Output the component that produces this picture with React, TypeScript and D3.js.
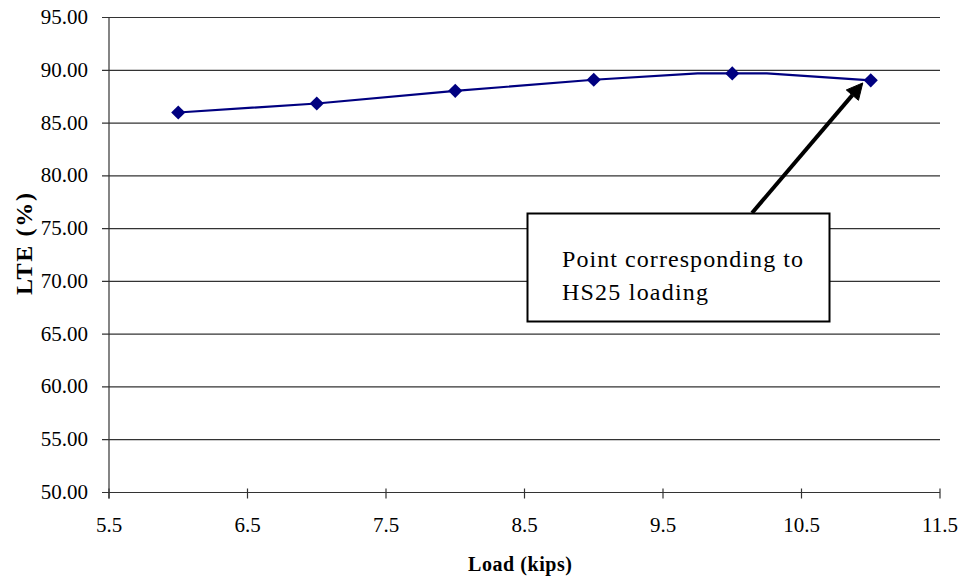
import React from "react";
import * as d3 from "d3";

const loads = [6, 7, 8, 9, 10, 11];
const lte = [86.0, 86.85, 88.05, 89.1, 89.7, 89.05];
// line path includes the flat shoulders around the 10-kip point seen in the chart
const lineLoads = [6, 7, 8, 9, 9.75, 10, 10.25, 11];
const lineLte = [86.0, 86.85, 88.05, 89.1, 89.7, 89.7, 89.7, 89.05];
const xTicks = [5.5, 6.5, 7.5, 8.5, 9.5, 10.5, 11.5];
const yTicks = [50, 55, 60, 65, 70, 75, 80, 85, 90, 95];
const annotationLines = ["Point corresponding to", "HS25 loading"];
const annotationTarget = [11, 88.8];

const W = 962;
const H = 579;
const left = 109;
const right = 940;
const top = 17.5;
const bottom = 492.5;

export default function App() {
  const x = d3.scaleLinear().domain([5.5, 11.5]).range([left, right]);
  const y = d3.scaleLinear().domain([50, 95]).range([bottom, top]);
  const pts: [number, number][] = lineLoads.map((l, i) => [x(l), y(lineLte[i])]);
  const line = d3.line()(pts) || "";
  const ts = { fontFamily: "Liberation Serif" };

  const tipX = x(annotationTarget[0]) - 8;
  const tipY = y(annotationTarget[1]);
  const tailX = 752;
  const tailY = 213;
  const ang = Math.atan2(tipY - tailY, tipX - tailX);
  const headLen = 16;
  const headW = 8;
  const bx = tipX - headLen * Math.cos(ang);
  const by = tipY - headLen * Math.sin(ang);
  const px = -Math.sin(ang);
  const py = Math.cos(ang);
  const head = `M${tipX},${tipY} L${bx + px * headW},${by + py * headW} L${bx - px * headW},${by - py * headW} Z`;
  const marker = d3.symbol().type(d3.symbolSquare).size(100)() || "";
  const annLen = [241, 146];

  return (
    <svg width={W} height={H} style={{ position: "absolute", left: 0, top: 0, background: "#fff" }}>
      {yTicks.map((t) => (
        <g key={t}>
          <line x1={left - 7} x2={right} y1={y(t)} y2={y(t)} stroke="#333" strokeWidth={1.2} />
          <text x={88} y={y(t) + 6.5} textAnchor="end" style={ts} fontSize={21} fill="#000">
            {t.toFixed(2)}
          </text>
        </g>
      ))}
      <line x1={left} x2={left} y1={top} y2={bottom + 6} stroke="#333" strokeWidth={1.2} />
      {xTicks.map((t) => (
        <g key={t}>
          <line x1={x(t)} x2={x(t)} y1={bottom - 4} y2={bottom + 6} stroke="#333" strokeWidth={1.2} />
          <text x={x(t)} y={532} textAnchor="middle" style={ts} fontSize={21} fill="#000">
            {t}
          </text>
        </g>
      ))}
      <path d={line} fill="none" stroke="#000080" strokeWidth={2.2} />
      {loads.map((l, i) => (
        <path
          key={l}
          d={marker}
          transform={`translate(${x(l)},${y(lte[i])}) rotate(45)`}
          fill="#000080"
        />
      ))}
      <line x1={tailX} y1={tailY} x2={bx} y2={by} stroke="#000" strokeWidth={4} />
      <path d={head} fill="#000" stroke="#000" strokeWidth={1} />
      <rect x={527.5} y={213.5} width={302} height={108} fill="#fff" stroke="#000" strokeWidth={2} />
      {annotationLines.map((s, i) => (
        <text
          key={s}
          x={562}
          y={267 + i * 33}
          style={ts}
          fontSize={24}
          textLength={annLen[i]}
          lengthAdjust="spacing"
          fill="#000"
        >
          {s}
        </text>
      ))}
      <text
        x={520}
        y={571}
        textAnchor="middle"
        style={ts}
        fontSize={20}
        fontWeight="bold"
        textLength={104}
        lengthAdjust="spacing"
        fill="#000"
      >
        Load (kips)
      </text>
      <text
        transform={`translate(32,244) rotate(-90)`}
        textAnchor="middle"
        style={ts}
        fontSize={24}
        fontWeight="bold"
        textLength={102}
        lengthAdjust="spacing"
        fill="#000"
      >
        LTE (%)
      </text>
    </svg>
  );
}
